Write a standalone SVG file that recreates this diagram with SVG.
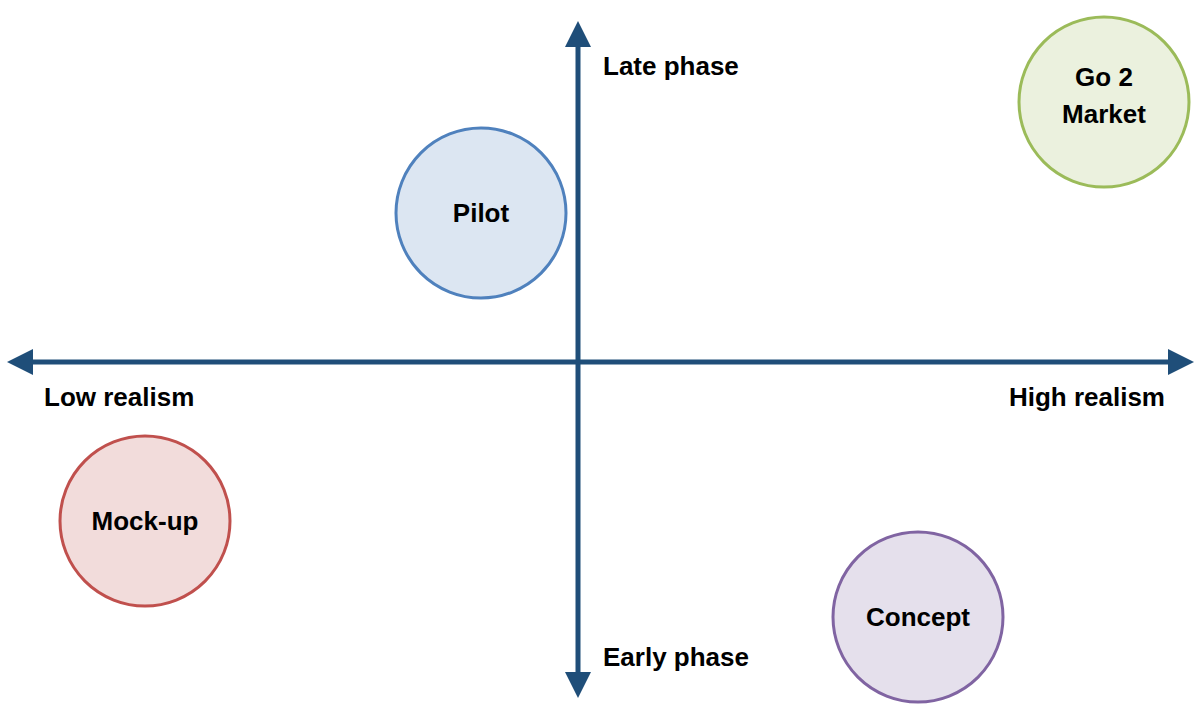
<svg xmlns="http://www.w3.org/2000/svg" width="1200" height="712" viewBox="0 0 1200 712">
<style>
text{font-family:"Liberation Sans",Arial,sans-serif;font-weight:bold;font-size:26px;fill:#000}
.c{text-anchor:middle}
.axis{stroke:#1F4E79;stroke-width:5;fill:none}
.node{stroke-width:3}
</style>
<defs>
<marker id="ah" viewBox="0 0 26 26" refX="0" refY="13" markerWidth="26" markerHeight="26" markerUnits="userSpaceOnUse" orient="auto">
<path d="M0,0 L26,13 L0,26 Z" fill="#1F4E79"/>
</marker>
</defs>
<rect width="1200" height="712" fill="#fff"/>
<g id="connectors">
<line class="axis" x1="578" y1="362" x2="578" y2="47" marker-end="url(#ah)"/>
<line class="axis" x1="578" y1="362" x2="578" y2="672" marker-end="url(#ah)"/>
<line class="axis" x1="578" y1="362" x2="33" y2="362" marker-end="url(#ah)"/>
<line class="axis" x1="578" y1="362" x2="1168" y2="362" marker-end="url(#ah)"/>
</g>
<g id="labels">
<text x="603" y="75">Late phase</text>
<text x="603" y="666">Early phase</text>
<text x="44" y="406">Low realism</text>
<text x="1165" y="406" text-anchor="end">High realism</text>
</g>
<g id="pilot">
<circle class="node" cx="481" cy="213" r="85" fill="#DCE6F2" stroke="#4F81BD"/>
<text class="c" x="481" y="222">Pilot</text>
</g>
<g id="go2market">
<circle class="node" cx="1104" cy="102" r="85" fill="#EBF1DE" stroke="#9BBB59"/>
<text class="c" x="1104" y="86">Go 2</text>
<text class="c" x="1104" y="123">Market</text>
</g>
<g id="mockup">
<circle class="node" cx="145" cy="521" r="85" fill="#F2DCDB" stroke="#C0504D"/>
<text class="c" x="145" y="530">Mock-up</text>
</g>
<g id="concept">
<circle class="node" cx="918" cy="617" r="85" fill="#E5E0EC" stroke="#8064A2"/>
<text class="c" x="918" y="626">Concept</text>
</g>
</svg>
